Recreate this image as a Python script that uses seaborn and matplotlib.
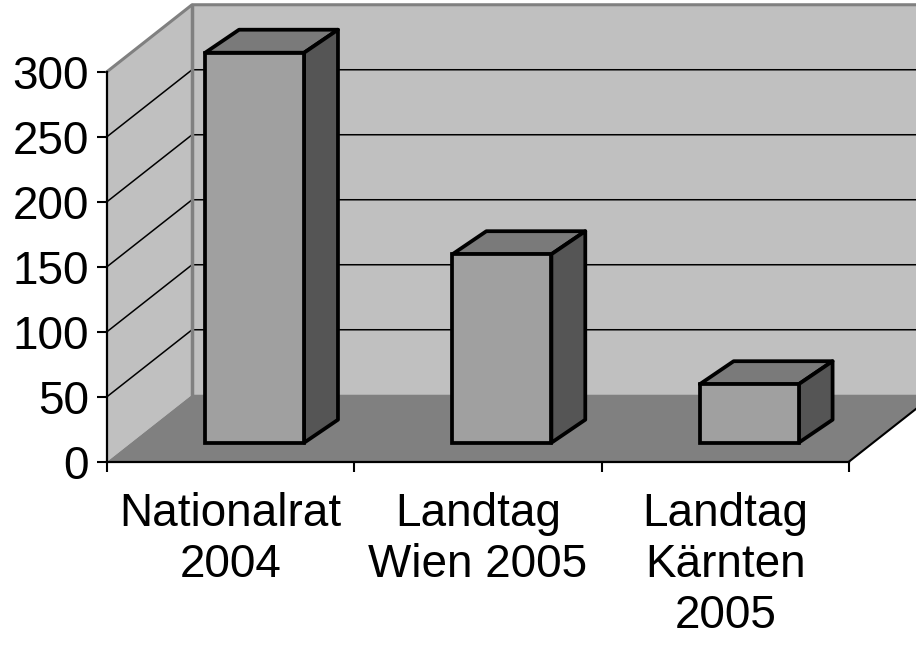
import matplotlib
matplotlib.use("Agg")
import matplotlib.pyplot as plt
from matplotlib.patches import Polygon
import numpy as np
import pandas as pd
import seaborn as sns

# data
wahlen = ["Nationalrat\n2004", "Landtag\nWien 2005", "Landtag\nKärnten\n2005"]
anzahl = [300, 145, 45]
y_ticks = [0, 50, 100, 150, 200, 250, 300]

# 3d look (oblique projection, in data units)
DEPTH_X, DEPTH_Y = 0.344, 51.5      # back wall offset
BAR_X0, BAR_Y0 = 0.097, 14.6        # bar front face offset
BAR_DX, BAR_DY = 0.137, 17.7        # bar depth
WALL = "#C0C0C0"
FLOOR = "#808080"
EDGE = "#808080"

sns.set_theme(style="white")
plt.rcParams["font.family"] = ["Liberation Sans", "DejaVu Sans"]

fig = plt.figure(figsize=(9.16, 6.5), dpi=100)
ax = fig.add_axes([0, 0, 1, 1])
ax.set_facecolor("white")

df = pd.DataFrame({"wahl": wahlen, "anzahl": anzahl})
sns.barplot(data=df, x="wahl", y="anzahl", color="#A0A0A0", saturation=1,
            width=0.4, edgecolor="black", linewidth=2.7, ax=ax, zorder=5)

x0, x1 = -0.5, len(wahlen) - 0.5
ymax = y_ticks[-1]

# left wall, back wall, floor
ax.add_patch(Polygon([(x0, 0), (x0, ymax), (x0 + DEPTH_X, ymax + DEPTH_Y),
                      (x0 + DEPTH_X, DEPTH_Y)], fc=WALL, ec="none", zorder=0.5))
ax.add_patch(Polygon([(x0 + DEPTH_X, DEPTH_Y), (x1 + DEPTH_X + 1, DEPTH_Y),
                      (x1 + DEPTH_X + 1, ymax + DEPTH_Y), (x0 + DEPTH_X, ymax + DEPTH_Y)],
                     fc=WALL, ec="none", zorder=0.5))
ax.add_patch(Polygon([(x0, 0), (x0 + DEPTH_X, DEPTH_Y), (x1 + DEPTH_X, DEPTH_Y),
                      (x1, 0)], fc=FLOOR, ec="none", zorder=0.7))

# gridlines on walls
for v in y_ticks[1:-1]:
    ax.plot([x0, x0 + DEPTH_X, x1 + DEPTH_X + 1], [v, v + DEPTH_Y, v + DEPTH_Y],
            color="black", lw=1.1, zorder=0.6, solid_capstyle="butt")

# wall edges
ax.plot([x0, x0 + DEPTH_X, x1 + DEPTH_X + 1], [ymax, ymax + DEPTH_Y, ymax + DEPTH_Y],
        color=EDGE, lw=2.2, zorder=0.8)
ax.plot([x0 + DEPTH_X, x0 + DEPTH_X], [DEPTH_Y, ymax + DEPTH_Y],
        color=EDGE, lw=2.5, zorder=0.8)
ax.plot([x1, x1 + DEPTH_X], [0, DEPTH_Y], color="black", lw=1.5, zorder=0.8)

# move bar fronts back and add top / side faces
for bar in ax.patches:
    if not hasattr(bar, "get_width"):
        continue
    bx = bar.get_x() + BAR_X0
    bw = bar.get_width()
    h = bar.get_height()
    bar.set_x(bx)
    bar.set_y(BAR_Y0)
    top = BAR_Y0 + h
    ax.add_patch(Polygon([(bx, top), (bx + bw, top), (bx + bw + BAR_DX, top + BAR_DY),
                          (bx + BAR_DX, top + BAR_DY)], fc="#7A7A7A", ec="black",
                         lw=2.7, joinstyle="round", zorder=4))
    ax.add_patch(Polygon([(bx + bw, BAR_Y0), (bx + bw + BAR_DX, BAR_Y0 + BAR_DY),
                          (bx + bw + BAR_DX, top + BAR_DY), (bx + bw, top)],
                         fc="#555555", ec="black", lw=2.7, joinstyle="round", zorder=4))

# axes in the front plane
ax.set_xlim(x0 - 107 / 247.3, x0 + (916 - 107) / 247.3)
ax.set_ylim((461.7 - 650) / 1.3, 461.7 / 1.3)
for side in ["top", "right"]:
    ax.spines[side].set_visible(False)
ax.spines["left"].set_position(("data", x0))
ax.spines["left"].set_bounds(0, ymax)
ax.spines["bottom"].set_position(("data", 0))
ax.spines["bottom"].set_bounds(x0, x1)
for side in ["left", "bottom"]:
    ax.spines[side].set_color("black")
    ax.spines[side].set_linewidth(1.6)
    ax.spines[side].set_zorder(6)

ax.set_yticks(y_ticks)
ax.set_yticklabels([str(t) for t in y_ticks])
ax.set_xticks(range(len(wahlen)))
ax.set_xticklabels(wahlen)
ax.set_xticks(np.arange(len(wahlen) + 1) - 0.5, minor=True)
ax.tick_params(axis="y", which="major", left=True, length=7.5, width=1.5,
               direction="out", color="black", pad=5.5, labelsize=33, labelcolor="black")
ax.tick_params(axis="x", which="major", bottom=True, length=0, pad=22,
               labelsize=33, labelcolor="black")
ax.tick_params(axis="x", which="minor", bottom=True, length=7.5, width=1.5,
               direction="out", color="black")
ax.set_xlabel("")
ax.set_ylabel("")

fig.savefig("out.png", dpi=100)
